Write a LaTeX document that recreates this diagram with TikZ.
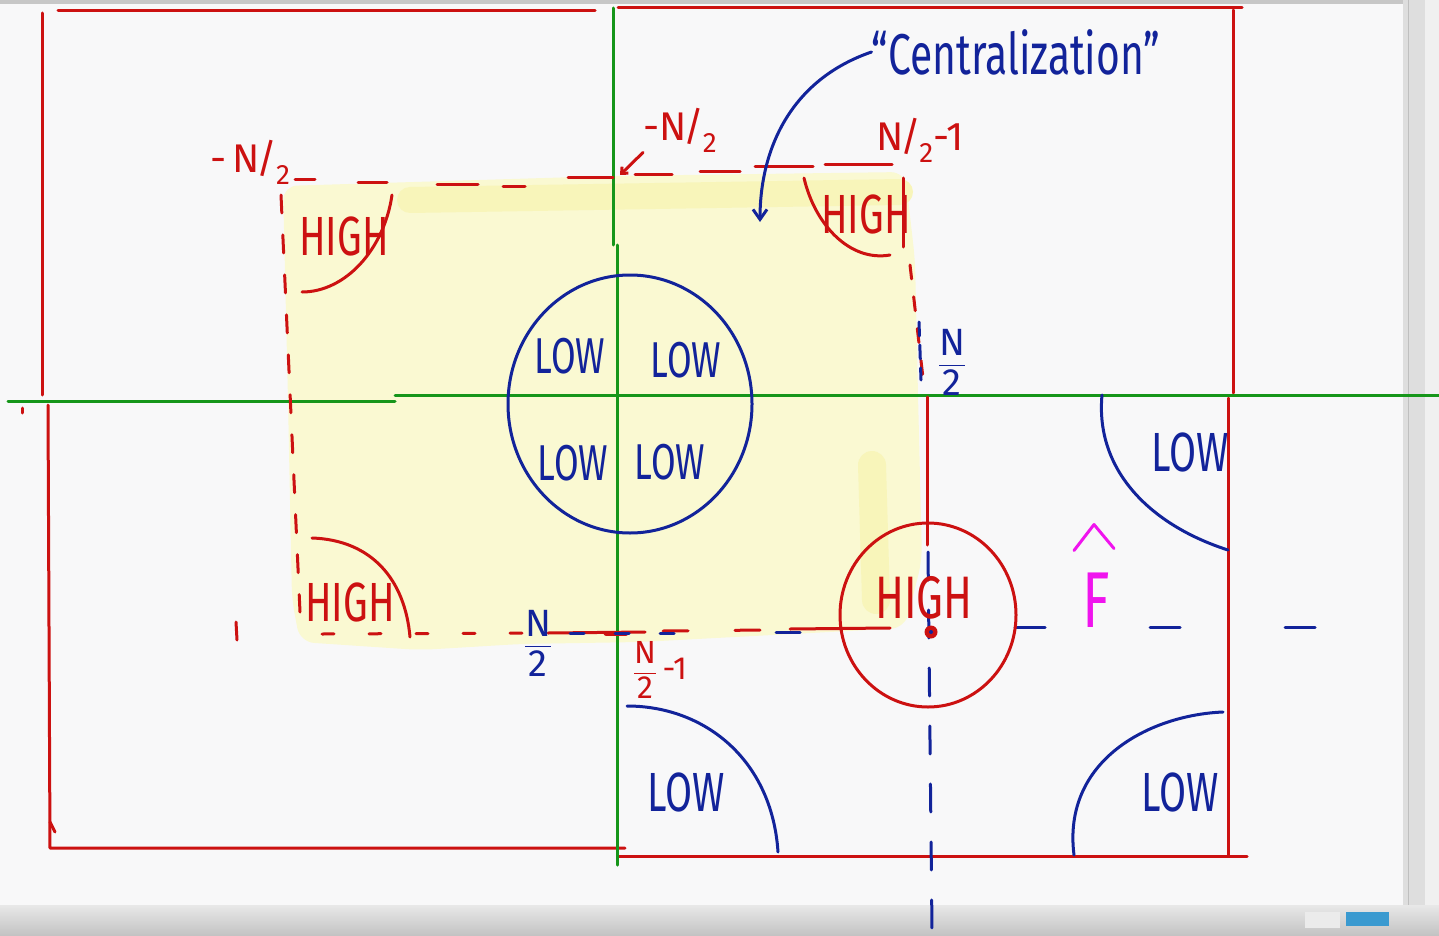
\documentclass[tikz,border=0pt]{standalone}
\usepackage{amsmath}
\usepackage{fontspec}
\setmainfont{Fira Sans}
\usetikzlibrary{arrows.meta}

\definecolor{penred}{HTML}{CC1111}
\definecolor{penblue}{HTML}{12239A}
\definecolor{pengreen}{HTML}{16961A}
\definecolor{penpink}{HTML}{F014EE}
\definecolor{marker}{HTML}{FAF9D2}
\definecolor{markerdk}{HTML}{F8F5BA}
\definecolor{board}{HTML}{F8F8F9}
\definecolor{logoblue}{HTML}{3A9AD0}

% handwriting is tall and narrow
\newcommand{\hand}[1]{\scalebox{0.85}[1.2]{#1}}
\newcommand{\slashtwo}{\kern-0.08em/\kern-0.04em\raisebox{-0.3em}{\scalebox{0.7}{2}}}

\begin{document}
\begin{tikzpicture}[x=1pt, y=-1pt, line cap=round, line join=round,
      redpen/.style={draw=penred, line width=3pt},
      bluepen/.style={draw=penblue, line width=3pt},
      greenpen/.style={draw=pengreen, line width=3pt},
      word/.style={inner sep=0pt, font=\fontsize{46}{46}\selectfont},
      high/.style={word, text=penred},
      low/.style={word, text=penblue},
      label/.style={inner sep=0pt, font=\fontsize{40}{40}\selectfont},
      frac/.style={inner sep=0pt, font=\fontsize{38}{38}\selectfont},
      pointer/.style={-{Straight Barb[length=10pt, width=14pt]}, line width=3pt}
    ]
    \useasboundingbox (0,0) rectangle (1439,936);

    % --- whiteboard ---------------------------------------------------------
    \fill[board] (0,0) rectangle (1439,936);
    \fill[black!22] (0,0) rectangle (1439,4);
    \fill[black!6] (1425,0) rectangle (1439,936);
    \fill[black!13] (1403,0) rectangle (1425,905);
    \draw[black!25, line width=1pt] (1408,0) -- (1408,905);
    \shade[top color=black!9, bottom color=black!24] (0,905) rectangle (1439,936);
    \fill[black!8] (1305,912) rectangle (1340,928);
    \fill[logoblue] (1346,912) rectangle (1389,926);

    % --- highlighted region -------------------------------------------------
    \fill[marker, rounded corners=14pt]
      (283,186) -- (610,176) -- (905,172) -- (915,260) -- (918,395)
      -- (922,560) -- (905,628) -- (640,642) -- (520,644) -- (420,650)
      -- (300,642) -- (292,600) -- (288,400) -- cycle;
    \draw[markerdk, line width=26pt] (410,200) -- (900,192);
    \draw[markerdk, line width=28pt] (872,465) -- (876,600);

    % --- frames ---------------------------------------------------------------
    \draw[redpen] (58,11) -- (595,11);
    \draw[redpen] (42,13) -- (42,395);
    \draw[redpen] (618,8) -- (1242,8);
    \draw[redpen] (1233,10) -- (1233,393);
    \draw[redpen] (48,405) -- (50,848) -- (625,848);
    \draw[redpen] (618,856) -- (1247,856);
    \draw[redpen] (1228,398) -- (1228,856);
    \draw[redpen] (22,408) -- (22,413);
    \draw[redpen] (236,622) -- (237,640);
    \draw[redpen] (50,822) -- (55,832);

    % --- axes -----------------------------------------------------------------
    \draw[greenpen] (8,401) -- (395,401);
    \draw[greenpen] (395,395) -- (1439,395);
    \draw[greenpen] (613,8) -- (613,245);
    \draw[greenpen] (617,245) -- (617,865);

    % --- dashed period box ----------------------------------------------------
    \draw[redpen]
      (295,180) -- (315,180)  (358,183) -- (387,183)  (437,185) -- (478,185)
      (503,187) -- (525,187)  (568,178) -- (613,178)  (635,175) -- (672,175)
      (700,172) -- (740,172)  (755,167) -- (813,167)  (825,165) -- (892,165);
    \draw[redpen, dash pattern=on 18pt off 22pt] (281,195) -- (300,612);
    \draw[redpen, dash pattern=on 12pt off 35pt] (322,634) -- (540,633);
    \draw[redpen] (548,633) -- (645,632);
    \draw[penred, line width=5pt] (606,633) -- (626,633);
    \draw[redpen, dash pattern=on 25pt off 47pt] (663,631) -- (765,630);
    \draw[redpen] (790,629) -- (890,628);
    \draw[bluepen, dash pattern=on 14pt off 31pt] (570,633) -- (700,633);
    \draw[bluepen] (776,632) -- (800,632);
    \draw[redpen] (903,178) -- (903,247);
    \draw[redpen, dash pattern=on 14pt off 18pt] (910,265) -- (923,378);
    \draw[bluepen, dash pattern=on 14pt off 9pt] (919,322) -- (921,380);
    \draw[redpen] (927,397) -- (927,545);
    \draw[bluepen, dash pattern=on 28pt off 30pt] (928,552) -- (932,930);
    \draw[bluepen, dash pattern=on 30pt off 105pt] (1015,627) -- (1330,627);

    % --- central low region -----------------------------------------------------
    \draw[bluepen] (630,404) ellipse [x radius=122, y radius=129];
    \node[low, font=\fontsize{42}{42}\selectfont] (low1) at (570,356) {\hand{LOW}};
    \node[low, font=\fontsize{42}{42}\selectfont] (low2) at (686,360) {\hand{LOW}};
    \node[low, font=\fontsize{42}{42}\selectfont] (low3) at (573,463) {\hand{LOW}};
    \node[low, font=\fontsize{42}{42}\selectfont] (low4) at (670,462) {\hand{LOW}};

    % --- high corners -----------------------------------------------------------
    \node[high] (high1) at (344,236) {\hand{HIGH}};
    \draw[redpen] (392,195) .. controls (384,250) and (345,292) .. (302,292);
    \node[high] (high2) at (866,214) {\hand{HIGH}};
    \draw[redpen] (804,178) .. controls (815,225) and (850,262) .. (890,255);
    \node[high] (high3) at (350,602) {\hand{HIGH}};
    \draw[redpen] (312,538) .. controls (372,540) and (405,580) .. (410,637);

    % --- peak after shifting --------------------------------------------------
    \draw[redpen] (928,615) ellipse [x radius=88, y radius=92];
    \node[high, font=\fontsize{50}{50}\selectfont] (high4) at (924,598) {\hand{HIGH}};
    \fill[penred] (931,632) circle (6.5);
    \fill[penblue] (931,632) circle (2);

    % --- outer low corners ----------------------------------------------------
    \node[low] (low5) at (1190,452) {\hand{LOW}};
    \draw[bluepen] (1102,395) .. controls (1095,470) and (1150,525) .. (1228,550);
    \node[low] (low6) at (686,792) {\hand{LOW}};
    \draw[bluepen] (627,706) .. controls (705,706) and (772,760) .. (778,852);
    \node[low] (low7) at (1180,792) {\hand{LOW}};
    \draw[bluepen] (1074,855) .. controls (1062,760) and (1150,715) .. (1223,712);

    % --- index labels -----------------------------------------------------------
    \node[label, text=penred] (negA) at (250,162) {-\,N\slashtwo};
    \node[label, text=penred] (negB) at (680,130) {-N\slashtwo};
    \node[label, text=penred] (posA) at (920,140) {N\slashtwo-1};
    \coordinate (corner) at (620,175);
    \draw[redpen, -{Straight Barb[length=5pt, width=9pt]}] (negB.south west) -- (corner);
    \node[frac, text=penblue] (halfR) at (952,362) {$\dfrac{\text{N}}{\text{2}}$};
    \node[frac, text=penblue] (halfB) at (538,643) {$\dfrac{\text{N}}{\text{2}}$};
    \node[frac, text=penred, font=\fontsize{32}{32}\selectfont] (halfC) at (660,670)
      {$\dfrac{\text{N}}{\text{2}}$\,-1};

    % --- annotation -------------------------------------------------------------
    \node[inner sep=0pt, text=penblue, font=\fontsize{48}{48}\selectfont]
      (cent) at (1016,52) {\hand{“Centralization”}};
    \coordinate (target) at (760,222);
    \draw[bluepen, pointer] (cent.west) .. controls (790,80) and (760,150) .. (target);

    % --- transform name ---------------------------------------------------------
    \node[inner sep=0pt, text=penpink, font=\fontsize{66}{66}\selectfont]
      (fhat) at (1096,600) {\hand{F}};
    \draw[draw=penpink, line width=3pt]
      ([xshift=-22pt, yshift=22pt]fhat.north) -- ([xshift=-2pt, yshift=48pt]fhat.north)
      -- ([xshift=18pt, yshift=24pt]fhat.north);
  \end{tikzpicture}
\end{document}
